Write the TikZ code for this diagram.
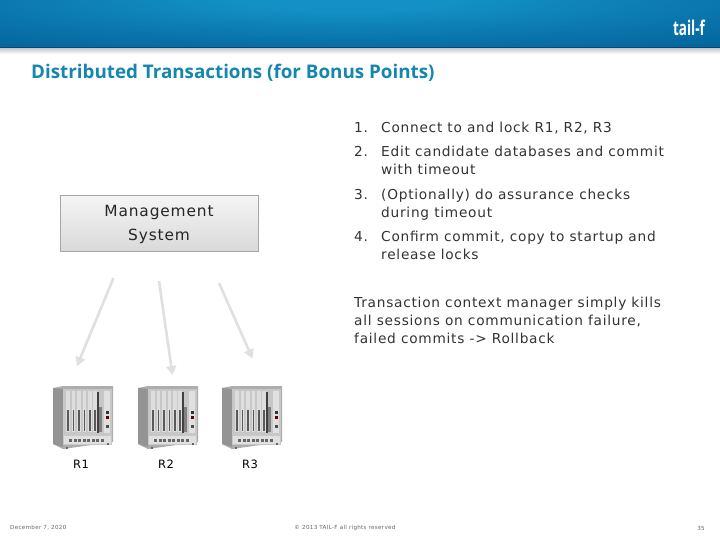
\documentclass[tikz,border=0pt]{standalone}
\usepackage{fontspec}
\setmainfont[LetterSpace=5.5]{DejaVu Sans}
\newfontfamily\titlefont{Open Sans}
\usetikzlibrary{arrows.meta,shadings}
\definecolor{bandlight}{HTML}{1391C6}
\definecolor{banddark}{HTML}{00578F}
\definecolor{titleblue}{HTML}{1586AE}
\definecolor{bodytext}{HTML}{333333}
\definecolor{arrowgrey}{HTML}{E0E0E0}
\pgfdeclareradialshading{bandshade}{\pgfpoint{0pt}{0pt}}{color(0pt)=(bandlight);color(5pt)=(bandlight);color(20pt)=(banddark!50!bandlight);color(32pt)=(banddark!82!bandlight);color(44pt)=(banddark);color(50pt)=(banddark)}
\tikzset{
  x=1pt,y=-1pt,
  item/.style={anchor=north west,inner sep=0pt,align=left,font=\fontsize{13.7pt}{18pt}\selectfont,text=bodytext},
  flow/.style={draw=arrowgrey,line width=2.6pt,-{Triangle[length=9pt,width=10pt]}},
  mgmt/.style={draw=black!35,line width=0.8pt,top color=gray!8,bottom color=gray!30,minimum width=198pt,minimum height=56pt,align=center,inner sep=0pt,font=\fontsize{15.4pt}{24pt}\selectfont,text=black!85},
  rlabel/.style={inner sep=0pt,font=\fontsize{11.5pt}{12pt}\selectfont,text=black},
  foot/.style={inner sep=0pt,font=\fontsize{5.6pt}{6pt}\selectfont,text=black!60},
  rack/.pic={
    \fill[black!32] (0,2) -- (10,0) -- (60,0) -- (60,56) -- (10,63) -- (0,58) -- cycle;
    \fill[black!42] (0,2) -- (10,3) -- (10,61) -- (0,58) -- cycle;
    \fill[black!22] (10,3) rectangle (59,59);
    \foreach \px in {13,18.5,24,29.5,35,40}{
      \fill[black!13] (\px,5) rectangle (\px+3.5,46);
      \fill[black!65] (\px+1,24) rectangle (\px+2.6,45);
    }
    \fill[black!75] (43.5,6) rectangle (46,47);
    \fill[black!50] (46,21) rectangle (49,46);
    \fill[black!12] (50.5,5) rectangle (57,47);
    \fill[black!80] (53,25) rectangle (56,28);
    \fill[red!35!black] (53,30) rectangle (56,33);
    \fill[black!70] (53,39) rectangle (56,42);
    \fill[black!12] (11,50) rectangle (58,58);
    \foreach \px in {16,20.5,25,29.5,34,38.5,43,47.5}{
      \fill[black!60] (\px,52.5) rectangle (\px+3.4,56);
    }
    \fill[black!60] (13,61) rectangle (15,62.5);
    \fill[black!60] (54,57) rectangle (56,58.5);
  }
}
\begin{document}
\begin{tikzpicture}
\useasboundingbox (0,0) rectangle (720,540);
\fill[white] (0,0) rectangle (720,540);
% shadow under the banner
\shade[top color=black!22,bottom color=white] (0,48) rectangle (720,54);
% banner
\begin{scope}
\clip (0,0) rectangle (720,48);
\path[shading=bandshade] (-150,-50) rectangle (850,50);
\end{scope}
\fill[banddark!85!black] (0,47.4) rectangle (720,48.4);
\node[anchor=center,inner sep=0pt,text=white,font=\titlefont\bfseries\fontsize{13.5pt}{14pt}\selectfont] (logo) at (689,28) {\scalebox{1}[1.5]{tail-f}};
\node[anchor=west,inner sep=0pt,text=titleblue,font=\titlefont\bfseries\fontsize{18.8pt}{20pt}\selectfont] (title) at (31,72.5) {Distributed Transactions (for Bonus Points)};
% list
\node[item] (n1) at (354,119.4) {\strut 1.};
\node[item] (t1) at (381,119.4) {\strut Connect to and lock R1, R2, R3};
\node[item] (n2) at (354,143.9) {\strut 2.};
\node[item] (t2) at (381,143.9) {\strut Edit candidate databases and commit\\with timeout};
\node[item] (n3) at (354,186.9) {\strut 3.};
\node[item] (t3) at (381,186.9) {\strut (Optionally) do assurance checks\\during timeout};
\node[item] (n4) at (354,228.9) {\strut 4.};
\node[item] (t4) at (381,228.9) {\strut Confirm commit, copy to startup and\\release locks};
\node[item] (para) at (354,294.9) {\strut Transaction context manager simply kills\\all sessions on communication failure,\\failed commits -> Rollback};
% management system
\node[mgmt] (ms) at (159,223.5) {\strut Management\\System\strut};
% arrows
\coordinate (a1s) at (113.5,278);
\coordinate (a1e) at (77,366);
\coordinate (a2s) at (159,281);
\coordinate (a2e) at (172.5,375);
\coordinate (a3s) at (219,283);
\coordinate (a3e) at (252.5,358.5);
\draw[flow] (a1s) -- (a1e);
\draw[flow] (a2s) -- (a2e);
\draw[flow] (a3s) -- (a3e);
% racks
\pic at (53,386) {rack};
\pic at (138,386) {rack};
\pic at (222,386) {rack};
\node[rlabel] (r1) at (81,464) {R1};
\node[rlabel] (r2) at (166,464) {R2};
\node[rlabel] (r3) at (250,464) {R3};
% footer
\node[foot,anchor=west] (fd) at (10,528) {December 7, 2020};
\node[foot] (fc) at (345,528) {© 2013 TAIL-F all rights reserved};
\node[foot,anchor=east] (fp) at (705,528) {35};
\end{tikzpicture}
\end{document}
